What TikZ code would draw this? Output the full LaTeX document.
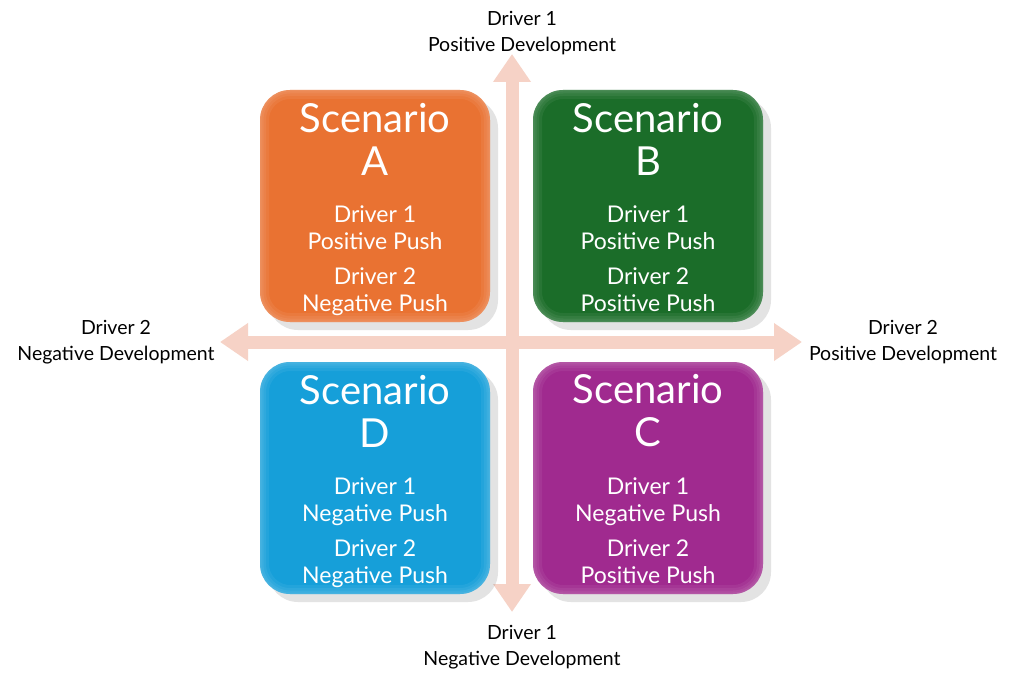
\documentclass[tikz,border=0pt]{standalone}
\usepackage{fontspec}
\setmainfont{Lato}
\usepackage{xcolor}
\usetikzlibrary{arrows.meta,shadows,positioning}
\definecolor{axispink}{HTML}{F6D2C6}
\definecolor{scenA}{HTML}{E97232}
\definecolor{scenB}{HTML}{1B6D29}
\definecolor{scenC}{HTML}{A02A8F}
\definecolor{scenD}{HTML}{169FD9}

\begin{document}
\begin{tikzpicture}[x=1pt,y=-1pt,
  box/.style={rounded corners=30pt, minimum width=230pt, minimum height=232pt,
    drop shadow={shadow xshift=8pt,shadow yshift=-8pt,opacity=0.22},
    path picture={
      \foreach \w in {18,12,7,3}
        \draw[white, opacity=0.06, line width=\w pt, rounded corners=30pt]
          (path picture bounding box.south west) rectangle (path picture bounding box.north east);}},
  title/.style={text=white, font=\fontsize{40}{43}\selectfont, align=center},
  push/.style={text=white, font=\fontsize{23}{27}\selectfont, align=center},
  axislabel/.style={font=\fontsize{19.5}{26}\selectfont, align=center},
  axis/.style={line width=13pt, axispink,
    {Triangle[width=36pt,length=28pt]}-{Triangle[width=36pt,length=28pt]}}]
\useasboundingbox[fill=white] (0,0) rectangle (1024,684);

% Axes
\coordinate (ytop) at (512,54);
\coordinate (ybot) at (512,612);
\coordinate (xleft) at (220,342);
\coordinate (xright) at (802,342);
\draw[axis] (ybot) -- (ytop);
\draw[axis] (xleft) -- (xright);

% Axis labels
\node[axislabel] (topl) at (522,33) {Driver 1\\Positive Development};
\node[axislabel] (botl) at (522,647) {Driver 1\\Negative Development};
\node[axislabel] (leftl) at (116,342) {Driver 2\\Negative Development};
\node[axislabel] (rightl) at (903,342) {Driver 2\\Positive Development};

% Scenarios
\node[box, fill=scenA] (A) at (375,206) {};
\node[box, fill=scenB] (B) at (648,206) {};
\node[box, fill=scenD] (D) at (375,478) {};
\node[box, fill=scenC] (C) at (648,478) {};

\node[title] (At) at (375,139) {Scenario\\A};
\node[push] (Ap) at (375,261) {Driver 1\\Positive Push\\[8pt]Driver 2\\Negative Push\vphantom{g}};
\node[title] (Bt) at (648,139) {Scenario\\B};
\node[push] (Bp) at (648,261) {Driver 1\\Positive Push\\[8pt]Driver 2\\Positive Push\vphantom{g}};
\node[title] (Dt) at (375,411) {Scenario\\D};
\node[push] (Dp) at (375,533) {Driver 1\\Negative Push\\[8pt]Driver 2\\Negative Push\vphantom{g}};
\node[title] (Ct) at (648,411) {Scenario\\C};
\node[push] (Cp) at (648,533) {Driver 1\\Negative Push\\[8pt]Driver 2\\Positive Push\vphantom{g}};
\end{tikzpicture}
\end{document}
